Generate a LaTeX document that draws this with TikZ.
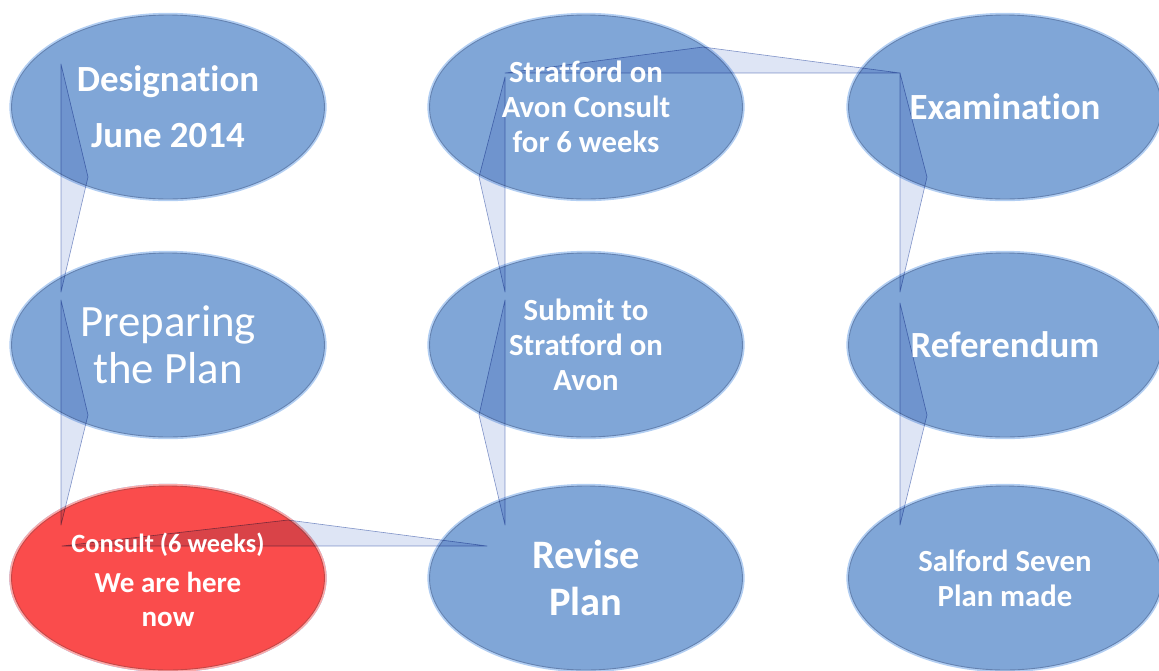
\documentclass[tikz,border=0pt]{standalone}
\usepackage{fontspec}
\setmainfont{Carlito}[Ligatures=NoCommon]
\usepackage{tikz}
\usetikzlibrary{shapes,calc}
\definecolor{ovalblue}{RGB}{128,166,215}
\definecolor{ovalrim}{RGB}{100,130,176}
\definecolor{ovalglow}{RGB}{178,206,242}
\definecolor{ovalred}{RGB}{250,76,76}
\definecolor{redrim}{RGB}{196,70,70}
\definecolor{redglow}{RGB}{250,170,170}
\definecolor{linkfill}{RGB}{200,211,238}
\definecolor{linkdraw}{RGB}{140,158,205}
\tikzstyle{oval} = [ellipse, draw=ovalrim, line width=0.5pt, fill=ovalblue, preaction={draw=ovalglow, line width=2.5pt}, minimum width=6.26cm, minimum height=3.68cm, inner sep=0pt]
\tikzstyle{label} = [text=white, align=center]
\tikzstyle{link} = [draw=linkdraw, fill=linkfill, fill opacity=0.6, line width=0.35pt, line join=round]

\begin{document}
\begin{tikzpicture}[x=0.02cm,y=-0.02cm]
\useasboundingbox (0,0) rectangle (1159,670);

\foreach \x/\c in {168/A,586/B,1005/C}
  \foreach \y [count=\n] in {107,345,578}
    \node[oval] at (\x,\y) (N\c\n) {};
\node[oval,fill=ovalred,draw=redrim,preaction={draw=redglow, line width=2.5pt}] at (NA3) {};

\begin{scope}[blend mode=multiply]
\foreach \a/\b/\d/\s/\t in {NA1/NA2/-107/27/-43, NA2/NA3/-107/27/-45, NB1/NB2/-81/-26/-30,
  NB2/NB3/-81/-26/-45, NC1/NC2/-105/27/-34, NC2/NC3/-105/27/-42}
\draw[link] ($(\a)+(\d,\t)$) -- ($(\a)+({\d+\s},70)$) -- ($(\b)+(\d,-53)$) -- cycle;

\draw[link] ($(NA3)+(-106,-32)$) -- ($(NA3)+(120,-58)$) -- ($(NB3)+(-99,-32)$) -- cycle;
\draw[link] ($(NB1)+(-81,-34)$) -- ($(NB1)+(117,-60)$) -- ($(NC1)+(-105,-34)$) -- cycle;
\end{scope}

\node[label,font=\bfseries\fontsize{21}{32}\selectfont] at (NA1) {Designation\\June 2014};
\node[label,font=\fontsize{25.5}{27}\selectfont] at (NA2) {Preparing\\the Plan};
\node[label,font=\bfseries\fontsize{16.5}{19.5}\selectfont] at ($(NA3)+(0,2)$)
  {{\fontsize{15}{17}\selectfont Consult (6 weeks)}\\[3pt]We are here\\now};

\node[label,font=\bfseries\fontsize{17.5}{19.8}\selectfont] at (NB1) {Stratford on\\Avon Consult\\for 6 weeks};
\node[label,font=\bfseries\fontsize{17.5}{19.8}\selectfont] at (NB2) {Submit to\\Stratford on\\Avon};
\node[label,font=\bfseries\fontsize{23}{26.6}\selectfont] at (NB3) {Revise\\Plan};

\node[label,font=\bfseries\fontsize{21}{25}\selectfont] at (NC1) {Examination};
\node[label,font=\bfseries\fontsize{21}{25}\selectfont] at (NC2) {Referendum};
\node[label,font=\bfseries\fontsize{17.5}{19.8}\selectfont] at (NC3) {Salford Seven\\Plan made};

\end{tikzpicture}
\end{document}
